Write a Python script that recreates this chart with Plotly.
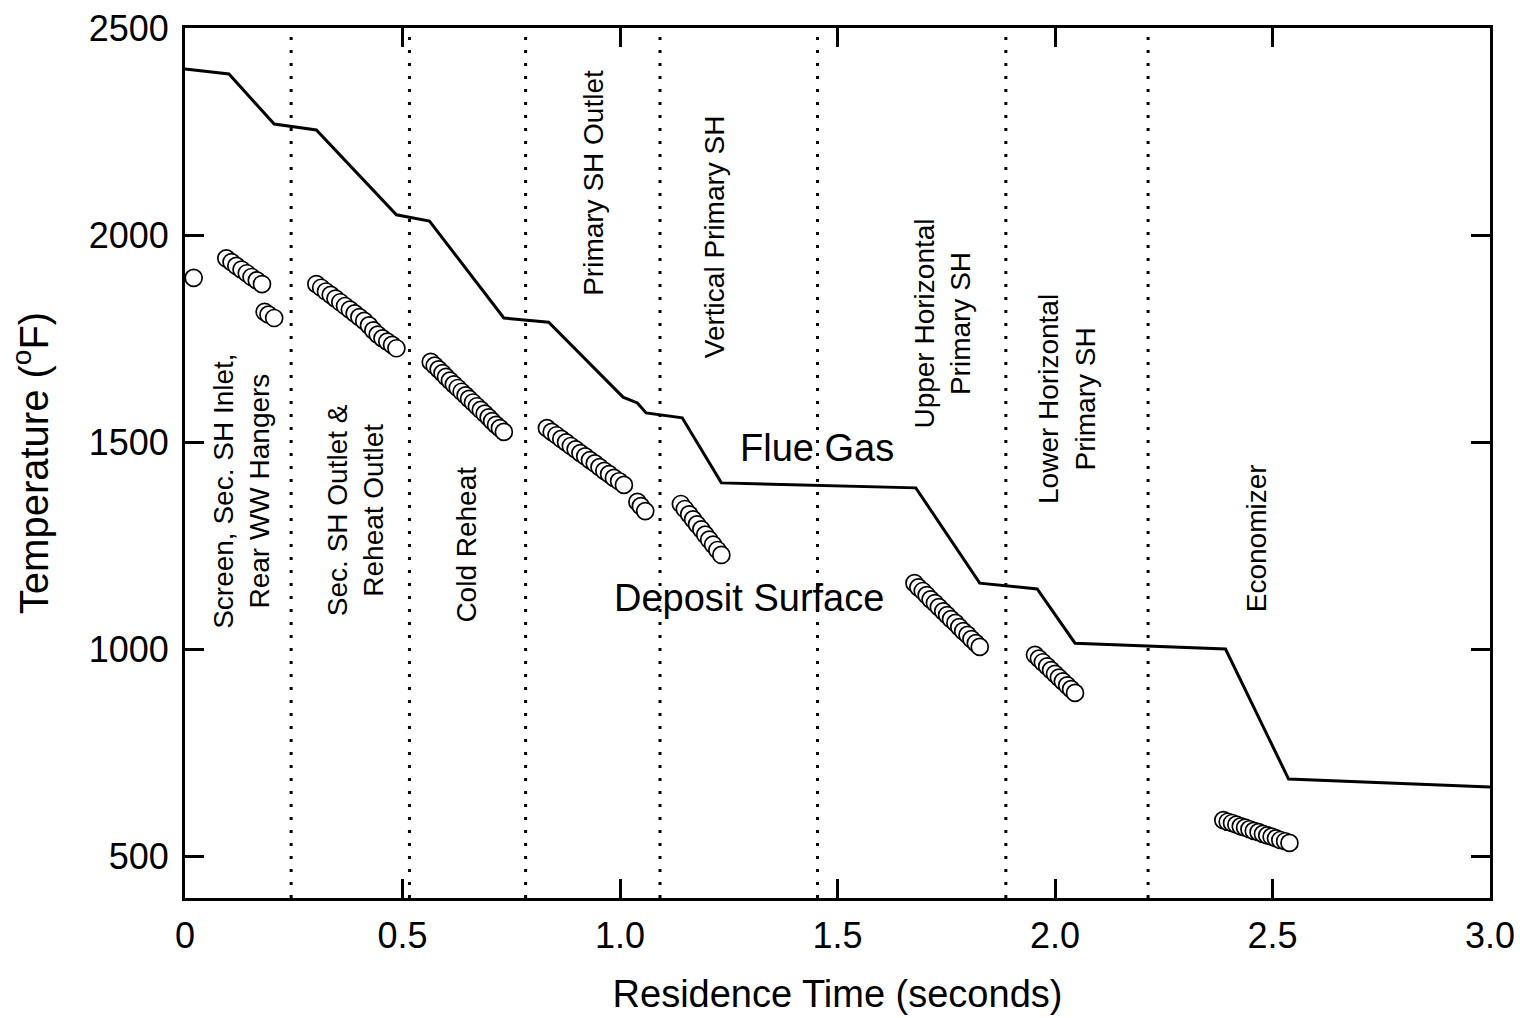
import plotly.graph_objects as go

# ---------------- data ----------------
# Flue gas temperature profile (residence time s, temperature F)
flue_x = [0.0, 0.101, 0.205, 0.302, 0.486, 0.562, 0.733, 0.836, 1.007, 1.040, 1.060,
          1.143, 1.233, 1.680, 1.827, 1.959, 2.046, 2.392, 2.537, 3.0]
flue_y = [2401, 2389, 2268, 2254, 2049, 2034, 1800, 1790, 1609, 1595, 1571,
          1559, 1402, 1390, 1160, 1146, 1015, 1001, 687, 668]

# Deposit surface temperatures, one list per tube bank
dep_a_x = [0.020]
dep_a_y = [1897]
dep_b_x = [0.095, 0.107, 0.118, 0.130, 0.142, 0.153, 0.165, 0.177]
dep_b_y = [1944, 1935, 1926, 1917, 1908, 1899, 1891, 1882]
dep_c_x = [0.183, 0.192, 0.205]
dep_c_y = [1815, 1808, 1800]
dep_d_x = [0.302, 0.313, 0.324, 0.335, 0.346, 0.357, 0.368, 0.379, 0.390, 0.401,
           0.412, 0.423, 0.433, 0.443, 0.454, 0.465, 0.476, 0.486]
dep_d_y = [1882, 1873, 1864, 1856, 1847, 1838, 1829, 1820, 1811, 1802,
           1793, 1782, 1770, 1760, 1751, 1743, 1735, 1727]
dep_e_x = [0.565, 0.574, 0.583, 0.592, 0.600, 0.609, 0.618, 0.627, 0.636, 0.645,
           0.653, 0.662, 0.671, 0.680, 0.689, 0.698, 0.706, 0.715, 0.724, 0.733]
dep_e_y = [1694, 1685, 1676, 1667, 1658, 1649, 1640, 1631, 1622, 1613,
           1605, 1596, 1587, 1578, 1569, 1560, 1551, 1542, 1534, 1525]
dep_f_x = [0.832, 0.843, 0.854, 0.865, 0.876, 0.887, 0.898, 0.909, 0.920, 0.931,
           0.942, 0.953, 0.964, 0.975, 0.986, 0.998, 1.009]
dep_f_y = [1534, 1525, 1517, 1508, 1500, 1491, 1483, 1474, 1466, 1457,
           1449, 1440, 1431, 1423, 1414, 1406, 1397]
dep_g_x = [1.040, 1.048, 1.058]
dep_g_y = [1356, 1346, 1334]
dep_h_x = [1.140, 1.149, 1.159, 1.168, 1.177, 1.187, 1.196, 1.205, 1.214, 1.224, 1.233]
dep_h_y = [1351, 1339, 1326, 1314, 1302, 1290, 1277, 1265, 1253, 1240, 1228]
dep_i_x = [1.677, 1.686, 1.696, 1.705, 1.714, 1.724, 1.733, 1.743, 1.752, 1.761,
           1.771, 1.780, 1.789, 1.799, 1.808, 1.818, 1.827]
dep_i_y = [1160, 1150, 1141, 1131, 1121, 1112, 1102, 1092, 1083, 1073,
           1064, 1054, 1044, 1035, 1025, 1015, 1006]
dep_j_x = [1.954, 1.963, 1.972, 1.982, 1.991, 2.000, 2.009, 2.018, 2.028, 2.037, 2.046]
dep_j_y = [987, 978, 969, 959, 950, 941, 932, 923, 913, 904, 895]
dep_k_x = [2.387, 2.397, 2.407, 2.417, 2.427, 2.437, 2.447, 2.457, 2.468, 2.478,
           2.488, 2.498, 2.508, 2.518, 2.529, 2.539]
dep_k_y = [588, 584, 581, 577, 573, 570, 566, 562, 559, 555, 551, 548, 544, 540, 537, 533]

# Section boundaries (residence time, s)
section_bounds = [0.244, 0.516, 0.783, 1.092, 1.454, 1.887, 2.214]

# Section labels: (text, x, y)
section_labels = ["Screen, Sec. SH Inlet,<br>Rear WW Hangers",
                  "Sec. SH Outlet &<br>Reheat Outlet",
                  "Cold Reheat",
                  "Primary SH Outlet",
                  "Vertical Primary SH",
                  "Upper Horizontal<br>Primary SH",
                  "Lower Horizontal<br>Primary SH",
                  "Economizer"]
section_label_x = [0.128, 0.392, 0.645, 0.940, 1.217, 1.742, 2.028, 2.465]
section_label_y = [1382, 1335, 1252, 2126, 1996, 1786, 1605, 1269]

x_ticks = [0, 0.5, 1.0, 1.5, 2.0, 2.5, 3.0]
x_ticktext = ["0", "0.5", "1.0", "1.5", "2.0", "2.5", "3.0"]
y_ticks = [500, 1000, 1500, 2000, 2500]
y_ticktext = ["500", "1000", "1500", "2000", "2500"]

# ---------------- figure ----------------
FONT = "Liberation Sans, Arial, sans-serif"
dep_x = (dep_a_x + dep_b_x + dep_c_x + dep_d_x + dep_e_x + dep_f_x + dep_g_x +
         dep_h_x + dep_i_x + dep_j_x + dep_k_x)
dep_y = (dep_a_y + dep_b_y + dep_c_y + dep_d_y + dep_e_y + dep_f_y + dep_g_y +
         dep_h_y + dep_i_y + dep_j_y + dep_k_y)

fig = go.Figure()

for xb in section_bounds:
    fig.add_shape(type="line", x0=xb, x1=xb, y0=0, y1=1, xref="x", yref="paper",
                  line=dict(color="black", width=3, dash="3px,10px"), layer="below")

fig.add_trace(go.Scatter(x=flue_x, y=flue_y, mode="lines",
                         line=dict(color="black", width=3), showlegend=False,
                         name="Flue Gas"))
fig.add_trace(go.Scatter(x=dep_x, y=dep_y, mode="markers",
                         marker=dict(size=17, color="white",
                                     line=dict(color="black", width=1.7)),
                         showlegend=False, name="Deposit Surface"))

for txt, lx, ly in zip(section_labels, section_label_x, section_label_y):
    fig.add_annotation(x=lx, y=ly, xref="x", yref="y", text=txt, showarrow=False,
                       textangle=-90, font=dict(family=FONT, size=28, color="black"),
                       align="center")

fig.add_annotation(x=1.452, y=1486, text="Flue Gas", showarrow=False,
                   font=dict(family=FONT, size=38, color="black"))
fig.add_annotation(x=1.297, y=1124, text="Deposit Surface", showarrow=False,
                   font=dict(family=FONT, size=38, color="black"))

axis_common = dict(showline=True, linecolor="black", linewidth=3, mirror="ticks",
                   ticks="inside", ticklen=19, tickwidth=3, tickcolor="black",
                   showgrid=False, zeroline=False, automargin=False,
                   tickfont=dict(family=FONT, size=36, color="black"))

fig.update_xaxes(range=[0, 3.0], tickvals=x_ticks, ticktext=x_ticktext,
                 title=dict(text="Residence Time (seconds)",
                            font=dict(family=FONT, size=38, color="black"), standoff=26),
                 ticklabelstandoff=4, **axis_common)
fig.update_yaxes(range=[400, 2500], tickvals=y_ticks, ticktext=y_ticktext,
                 title=dict(text="Temperature (<sup>o</sup>F)",
                            font=dict(family=FONT, size=40, color="black"), standoff=28),
                 ticklabelstandoff=6, **axis_common)

fig.update_layout(width=1520, height=1018, paper_bgcolor="white", plot_bgcolor="white",
                  margin=dict(l=185, r=30, t=28, b=120),
                  font=dict(family=FONT, color="black"))

fig.write_html("out.html")
